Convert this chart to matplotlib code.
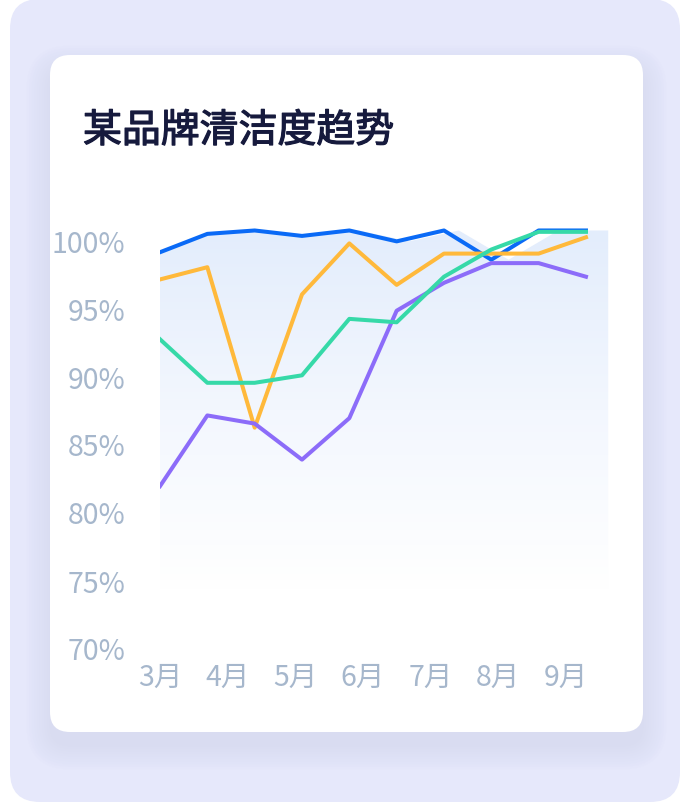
import numpy as np
import matplotlib.pyplot as plt
import matplotlib.patheffects as pe
from matplotlib.patches import FancyBboxPatch

plt.rcParams['font.family'] = ['Noto Sans CJK SC', 'DejaVu Sans']

title = '某品牌清洁度趋势'
months = ['3月', '4月', '5月', '6月', '7月', '8月', '9月']
y_ticks = [70, 75, 80, 85, 90, 95, 100]

# ten samples per series
blue = [99.1, 100.45, 100.7, 100.3, 100.7, 99.9, 100.7, 98.55, 100.7, 100.7]
orange = [97.1, 98.0, 86.2, 96.0, 99.75, 96.7, 99.0, 99.0, 99.0, 100.2]
green = [92.7, 89.5, 89.5, 90.05, 94.2, 93.95, 97.3, 99.3, 100.6, 100.6]
purple = [81.9, 87.1, 86.5, 83.85, 86.9, 94.8, 96.85, 98.3, 98.3, 97.3]

W, H = 693, 804
fig = plt.figure(figsize=(W / 100, H / 100), dpi=100)

# background panel + card, drawn in pixel coords
bg = fig.add_axes([0, 0, 1, 1])
bg.set_xlim(0, W)
bg.set_ylim(H, 0)
bg.axis('off')

bg.add_patch(FancyBboxPatch((10, 0), 670, 803, boxstyle='round,pad=0,rounding_size=30',
                            fc='#e6e8fb', ec='none'))
# soft shadow under the card
for i in range(10):
    g = 1 + i * 2.5
    bg.add_patch(FancyBboxPatch((50 - g, 56 - g + 14), 593 + 2 * g, 677 + 2 * g,
                                boxstyle='round,pad=0,rounding_size=%f' % (20 + g),
                                fc='#c5c9ec', ec='none', alpha=0.035))
bg.add_patch(FancyBboxPatch((50, 56), 593, 677, boxstyle='round,pad=0,rounding_size=20',
                            fc='white', ec='none'))
bg.text(83, 132, title, fontsize=28, color='#161a3d', va='center', ha='left',
        path_effects=[pe.withStroke(linewidth=0.9, foreground='#161a3d')])

# chart axes: x 0 -> 160px, 1 unit = 47.33px ; y 100 -> 241px, 1 unit = 13.6px
px_x, px_y = 47.33, 13.6
x_lo, x_hi = 0, 9.5
y_lo, y_hi = 70, 101.2
left = 160
top = 241 - (y_hi - 100) * px_y
bottom = 649
ax = fig.add_axes([left / W, 1 - bottom / H, (x_hi - x_lo) * px_x / W, (bottom - top) / H])
ax.set_xlim(x_lo, x_hi)
ax.set_ylim(y_lo, y_hi)
ax.patch.set_alpha(0)
for s in ax.spines.values():
    s.set_visible(False)

x = np.arange(len(blue))
# the area behind the lines spans the full plot width
x_fill = np.linspace(0, 9.47, len(blue))
fill_base = 74.3
poly = ax.fill_between(x_fill, blue, fill_base, color='none', lw=0)
grad = np.linspace(0, 1, 256).reshape(-1, 1)
cmap = plt.matplotlib.colors.LinearSegmentedColormap.from_list('g', ['#ffffff', '#f3f7fe', '#e3edfc'])
im = ax.imshow(grad, cmap=cmap, aspect='auto', origin='lower',
               extent=[0, 9.47, fill_base, max(blue)], zorder=1)
im.set_clip_path(poly.get_paths()[0], transform=ax.transData)

lw = 2.9
ax.plot(x, blue, color='#0a6af6', lw=lw, zorder=3)
ax.plot(x, orange, color='#ffb93b', lw=lw, zorder=4)
ax.plot(x, purple, color='#8c6cf9', lw=lw, zorder=5)
ax.plot(x, green, color='#36d9a8', lw=lw, zorder=6)

ax.set_yticks(y_ticks)
ax.set_yticklabels(['%d%%' % v for v in y_ticks])
ax.set_xticks(np.arange(len(months)) * 10 / 7)
ax.set_xticklabels(months)
ax.tick_params(length=0, labelsize=20.5, labelcolor='#a6b7cc')
ax.tick_params(axis='y', pad=25)
ax.tick_params(axis='x', pad=10)

fig.savefig('out.png', dpi=100)
